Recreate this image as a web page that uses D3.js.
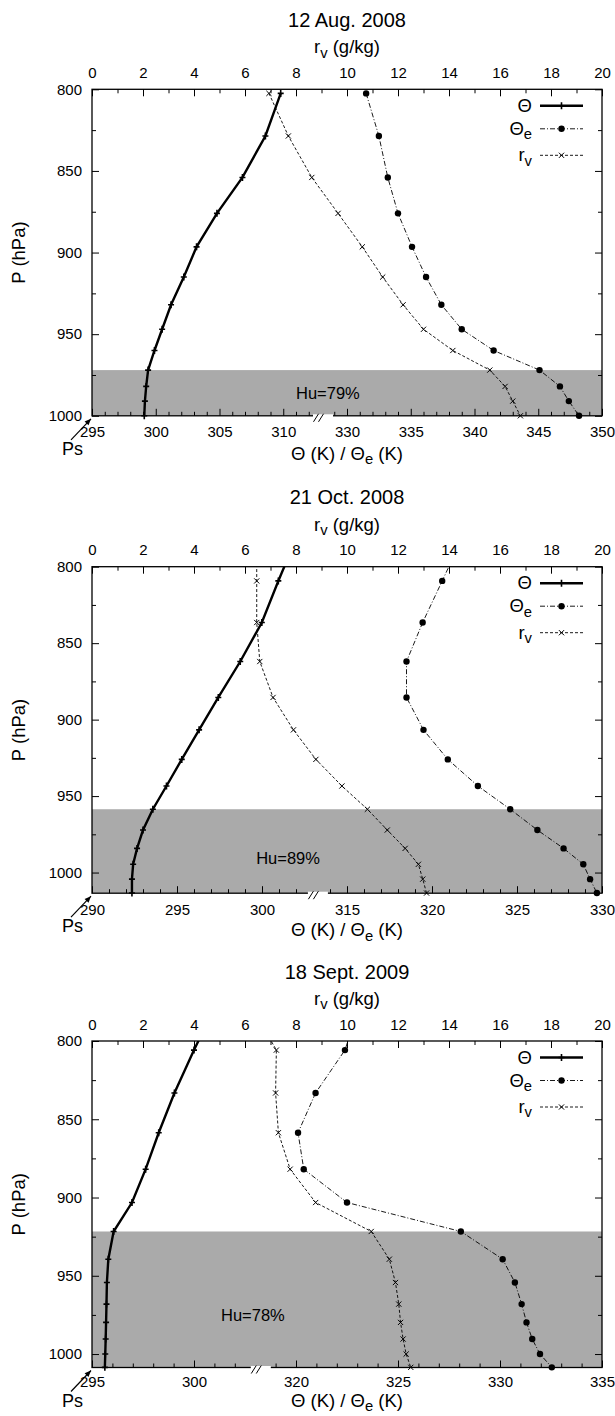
<!DOCTYPE html>
<html><head><meta charset="utf-8">
<script src="https://cdn.jsdelivr.net/npm/d3@7"></script>
<style>
body{margin:0;background:#fff}
svg text{font-family:"Liberation Sans",Arial,Helvetica,sans-serif;fill:#000}
</style>
</head><body>
<svg id="chart" width="615" height="1416"></svg>
<script>
// ---------------- data ----------------
const titles = ["12 Aug. 2008", "21 Oct. 2008", "18 Sept. 2009"];
const humidityLabels = ["Hu=79%", "Hu=89%", "Hu=78%"];

// Panel 1 (12 Aug. 2008)
const pressure1 = [802.5, 828.6, 854, 876, 896.5, 915, 932, 947, 960, 972, 982, 991, 1000];
const theta1    = [309.8, 308.6, 306.8, 304.8, 303.2, 302.2, 301.2, 300.5, 299.9, 299.4, 299.25, 299.15, 299.1];
const thetaE1   = [331.5, 332.5, 333.2, 334.0, 335.1, 336.2, 337.4, 339.0, 341.5, 345.1, 346.7, 347.4, 348.2];
const rv1       = [6.94, 7.7, 8.62, 9.65, 10.6, 11.4, 12.2, 13.0, 14.15, 15.6, 16.2, 16.5, 16.8];

// Panel 2 (21 Oct. 2008) – first level lies above the 800 hPa frame
const pressure2 = [795, 809.3, 836.5, 862, 885.5, 906.7, 926, 943.4, 958.6, 972.2, 984.2, 994.6, 1004.3, 1013.4];
const theta2    = [301.5, 300.96, 299.99, 298.72, 297.43, 296.3, 295.28, 294.38, 293.58, 293.0, 292.65, 292.42, 292.35, 292.35];
const thetaE2   = [321.2, 320.6, 319.45, 318.5, 318.5, 319.5, 320.93, 322.7, 324.6, 326.2, 327.74, 328.9, 329.3, 329.7];
const rv2       = [6.46, 6.46, 6.46, 6.58, 7.1, 7.9, 8.78, 9.8, 10.8, 11.58, 12.28, 12.8, 12.97, 13.12];

// Panel 3 (18 Sept. 2009)
const pressure3 = [795, 805.8, 833.2, 858.6, 881.9, 903.2, 921.7, 939.4, 954.3, 968.1, 979.8, 990.4, 1000, 1008.5];
const theta3    = [300.4, 300.0, 299.04, 298.27, 297.63, 296.96, 296.06, 295.8, 295.73, 295.71, 295.69, 295.67, 295.65, 295.63];
const thetaE3   = [322.67, 322.4, 320.96, 320.1, 320.38, 322.5, 328.08, 330.13, 330.73, 331.06, 331.3, 331.58, 331.96, 332.54];
const rv3       = [6.85, 7.23, 7.2, 7.31, 7.77, 8.77, 10.95, 11.66, 11.9, 12.03, 12.1, 12.2, 12.32, 12.5];

// surface pressure (bottom of frame) and top of the humid layer
const surfacePressure = [1000, 1013.5, 1008.6];
const humidLayerTop   = [972, 958.6, 921.7];

// broken Θ axis: [left start, left end | right start, right end]
const thetaDomain1 = [295, 313, 328, 350];
const thetaDomain2 = [290, 303.2, 313.2, 330];
const thetaDomain3 = [295, 303.2, 318.2, 335];
const thetaTicks1 = [295, 300, 305, 310, 330, 335, 340, 345, 350];
const thetaTicks2 = [290, 295, 300, 315, 320, 325, 330];
const thetaTicks3 = [295, 300, 320, 325, 330, 335];

const rvTicks = [0, 2, 4, 6, 8, 10, 12, 14, 16, 18, 20];
const rvMinorTicks = [1, 3, 5, 7, 9, 11, 13, 15, 17, 19];
const pTicks = [800, 850, 900, 950, 1000];
const pMinorTicks = [825, 875, 925, 975];

// ---------------- layout ----------------
const svg = d3.select("#chart");
const L = 92, W = 510, H = 326.5;
const panelTops = [89.3, 566.7, 1041];
const xLabelOffset = [44, 43, 39];
const xTickPad = [11, 11, 8.5];
const huPos = [[9.25, 989.9], [7.69, 994.4], [6.31, 978.6]]; // label baseline anchor in (r_v, P)
const FONT_TICK = 15, FONT_LAB = 18.5, FONT_TITLE = 20, FONT_LEG = 18.5;

const panels = [
  {p: pressure1, th: theta1, the: thetaE1, rv: rv1, dom: thetaDomain1, ticks: thetaTicks1},
  {p: pressure2, th: theta2, the: thetaE2, rv: rv2, dom: thetaDomain2, ticks: thetaTicks2},
  {p: pressure3, th: theta3, the: thetaE3, rv: rv3, dom: thetaDomain3, ticks: thetaTicks3}
];

function rich(sel, parts) {
  let shifted = false;
  parts.forEach(([s, sub]) => {
    const t = sel.append("tspan").text(s);
    if (sub && !shifted) { t.attr("dy", "0.3em").attr("font-size", "0.8em"); shifted = true; }
    else if (!sub && shifted) { t.attr("dy", "-0.24em"); shifted = false; }
  });
  return sel;
}

const defs = svg.append("defs");

panels.forEach((pd, i) => {
  const top = panelTops[i];
  const g = svg.append("g").attr("transform", `translate(${L},${top})`);
  const dom = pd.dom;
  const leftSpan = dom[1] - dom[0], rightSpan = dom[3] - dom[2];
  const wb = W * leftSpan / (leftSpan + rightSpan);
  const x = d3.scaleLinear().domain(dom).range([0, wb, wb, W]);
  const xr = d3.scaleLinear().domain([0, 20]).range([0, W]);
  const y = d3.scaleLinear().domain([800, surfacePressure[i]]).range([0, H]);
  const gapC = wb + 1.5;

  defs.append("clipPath").attr("id", "clip" + i)
    .append("rect").attr("x", 0).attr("y", 0).attr("width", W).attr("height", H);

  // humid layer
  g.append("rect")
    .attr("x", 0).attr("width", W)
    .attr("y", y(humidLayerTop[i])).attr("height", H - y(humidLayerTop[i]))
    .attr("fill", "#aaaaaa");

  g.append("text")
    .attr("x", xr(huPos[i][0])).attr("y", y(huPos[i][1]))
    .attr("text-anchor", "middle").attr("font-size", 16.5)
    .text(humidityLabels[i]);

  const styleAxis = a => {
    a.select(".domain").remove();
    a.selectAll("line").attr("stroke", "#000").attr("stroke-width", 1);
    a.selectAll("text").attr("font-size", FONT_TICK).attr("font-family", null);
  };
  // bottom Θ axis
  const minorTheta = [];
  for (let v = Math.ceil(dom[0]) + 1; v < dom[1]; v++) if (v % 5 !== 0) minorTheta.push(v);
  for (let v = Math.floor(dom[2]) + 1; v < dom[3]; v++) if (v % 5 !== 0) minorTheta.push(v);
  const minorVis = minorTheta.filter(v => Math.abs(x(v) - gapC) > 10);
  g.append("g").attr("transform", `translate(0,${H})`)
    .call(d3.axisBottom(x).tickValues(pd.ticks).tickSize(-7).tickPadding(xTickPad[i]).tickFormat(d3.format("d")))
    .call(styleAxis);
  g.append("g").attr("transform", `translate(0,${H})`)
    .call(d3.axisBottom(x).tickValues(minorVis).tickSize(-4).tickFormat(""))
    .call(styleAxis);
  // top r_v axis
  g.append("g")
    .call(d3.axisTop(xr).tickValues(rvTicks).tickSize(-7).tickPadding(11.5).tickFormat(d3.format("d")))
    .call(styleAxis);
  g.append("g")
    .call(d3.axisTop(xr).tickValues(rvMinorTicks).tickSize(-4).tickFormat(""))
    .call(styleAxis);
  // left / right P axes
  const pMajor = pTicks.filter(v => v <= surfacePressure[i]);
  g.append("g")
    .call(d3.axisLeft(y).tickValues(pMajor).tickSize(-7).tickPadding(10).tickFormat(d3.format("d")))
    .call(styleAxis);
  g.append("g")
    .call(d3.axisLeft(y).tickValues(pMinorTicks).tickSize(-4).tickFormat(""))
    .call(styleAxis);
  g.append("g").attr("transform", `translate(${W},0)`)
    .call(d3.axisRight(y).tickValues(pMajor).tickSize(-7).tickFormat(""))
    .call(styleAxis);
  g.append("g").attr("transform", `translate(${W},0)`)
    .call(d3.axisRight(y).tickValues(pMinorTicks).tickSize(-4).tickFormat(""))
    .call(styleAxis);

  // series
  const plot = g.append("g").attr("clip-path", `url(#clip${i})`);
  const pts = (vals, sx) => pd.p.map((p, k) => [sx(vals[k]), y(p), p]);
  const thPts = pts(pd.th, x), thePts = pts(pd.the, x), rvPts = pts(pd.rv, xr);
  const line = d3.line();

  plot.append("path").attr("d", line(rvPts.map(d => [d[0], d[1]])))
    .attr("fill", "none").attr("stroke", "#000").attr("stroke-width", 0.9)
    .attr("stroke-dasharray", "3,2");
  plot.append("path").attr("d", line(thePts.map(d => [d[0], d[1]])))
    .attr("fill", "none").attr("stroke", "#000").attr("stroke-width", 0.9)
    .attr("stroke-dasharray", "5,2,1,2");
  plot.append("path").attr("d", line(thPts.map(d => [d[0], d[1]])))
    .attr("fill", "none").attr("stroke", "#000").attr("stroke-width", 2.4);

  const mk = g.append("g");
  const plus = (gg, cx, cy) => gg.append("path")
    .attr("d", `M${cx - 3},${cy}H${cx + 3}M${cx},${cy - 3.5}V${cy + 3.5}`)
    .attr("stroke", "#000").attr("stroke-width", 1.6);
  const cross = (gg, cx, cy) => gg.append("path")
    .attr("d", `M${cx - 2.6},${cy - 2.6}L${cx + 2.6},${cy + 2.6}M${cx - 2.6},${cy + 2.6}L${cx + 2.6},${cy - 2.6}`)
    .attr("stroke", "#000").attr("stroke-width", 1);
  const dot = (gg, cx, cy) => gg.append("circle").attr("cx", cx).attr("cy", cy).attr("r", 3.2).attr("fill", "#000");
  rvPts.filter(d => d[2] >= 800).forEach(d => cross(mk, d[0], d[1]));
  thePts.filter(d => d[2] >= 800).forEach(d => dot(mk, d[0], d[1]));
  thPts.filter(d => d[2] >= 800).forEach(d => plus(mk, d[0], d[1]));

  // frame
  g.append("rect").attr("x", 0).attr("y", 0).attr("width", W).attr("height", H)
    .attr("fill", "none").attr("stroke", "#000").attr("stroke-width", 1.3);

  // axis break mark
  g.append("rect").attr("x", gapC - 10).attr("y", H - 1.5).attr("width", 20).attr("height", 3).attr("fill", "#fff");
  [-5, 0].forEach(o => {
    g.append("line").attr("x1", gapC - 2 + o - 2.5).attr("y1", H + 6).attr("x2", gapC - 2 + o + 2.5).attr("y2", H - 2)
      .attr("stroke", "#000").attr("stroke-width", 1);
  });

  // legend
  const lg = g.append("g");
  const rows = [
    {y: 16.5, parts: [["Θ", false]], dash: null, w: 2.4, m: plus},
    {y: 39.5, parts: [["Θ", false], ["e", true]], dash: "5,2,1,2", w: 0.9, m: dot},
    {y: 66, parts: [["r", false], ["v", true]], dash: "3,2", w: 0.9, m: cross}
  ];
  rows.forEach(r => {
    rich(lg.append("text").attr("x", 440).attr("y", r.y + 6).attr("text-anchor", "end")
      .attr("font-size", FONT_LEG), r.parts);
    lg.append("line").attr("x1", 448).attr("x2", 491).attr("y1", r.y).attr("y2", r.y)
      .attr("stroke", "#000").attr("stroke-width", r.w).attr("stroke-dasharray", r.dash);
    r.m(lg, 469.5, r.y);
  });

  // titles and axis labels
  g.append("text").attr("x", W / 2).attr("y", -62.5).attr("text-anchor", "middle")
    .attr("font-size", FONT_TITLE).text(titles[i]);
  rich(g.append("text").attr("x", W / 2).attr("y", -36).attr("text-anchor", "middle")
    .attr("font-size", FONT_LAB), [["r", false], ["v", true], [" (g/kg)", false]]);
  rich(g.append("text").attr("x", W / 2).attr("y", H + xLabelOffset[i]).attr("text-anchor", "middle")
    .attr("font-size", FONT_LAB), [["Θ (K) / Θ", false], ["e", true], [" (K)", false]]);
  g.append("text").attr("transform", `translate(${-67},${H / 2}) rotate(-90)`)
    .attr("text-anchor", "middle").attr("font-size", FONT_LAB).text("P (hPa)");

  // Ps arrow
  g.append("text").attr("x", -30).attr("y", H + 39).attr("font-size", 18).text("Ps");
  const ax0 = [-21, H + 24], ax1 = [-1, H + 3];
  g.append("line").attr("x1", ax0[0]).attr("y1", ax0[1]).attr("x2", ax1[0]).attr("y2", ax1[1])
    .attr("stroke", "#000").attr("stroke-width", 1.2);
  const ang = Math.atan2(ax1[1] - ax0[1], ax1[0] - ax0[0]);
  const hl = 7, hw = 0.4;
  g.append("path").attr("d",
    `M${ax1[0]},${ax1[1]}` +
    `L${ax1[0] - hl * Math.cos(ang - hw)},${ax1[1] - hl * Math.sin(ang - hw)}` +
    `L${ax1[0] - hl * Math.cos(ang + hw)},${ax1[1] - hl * Math.sin(ang + hw)}Z`)
    .attr("fill", "#000");
});
</script>
</body></html>
